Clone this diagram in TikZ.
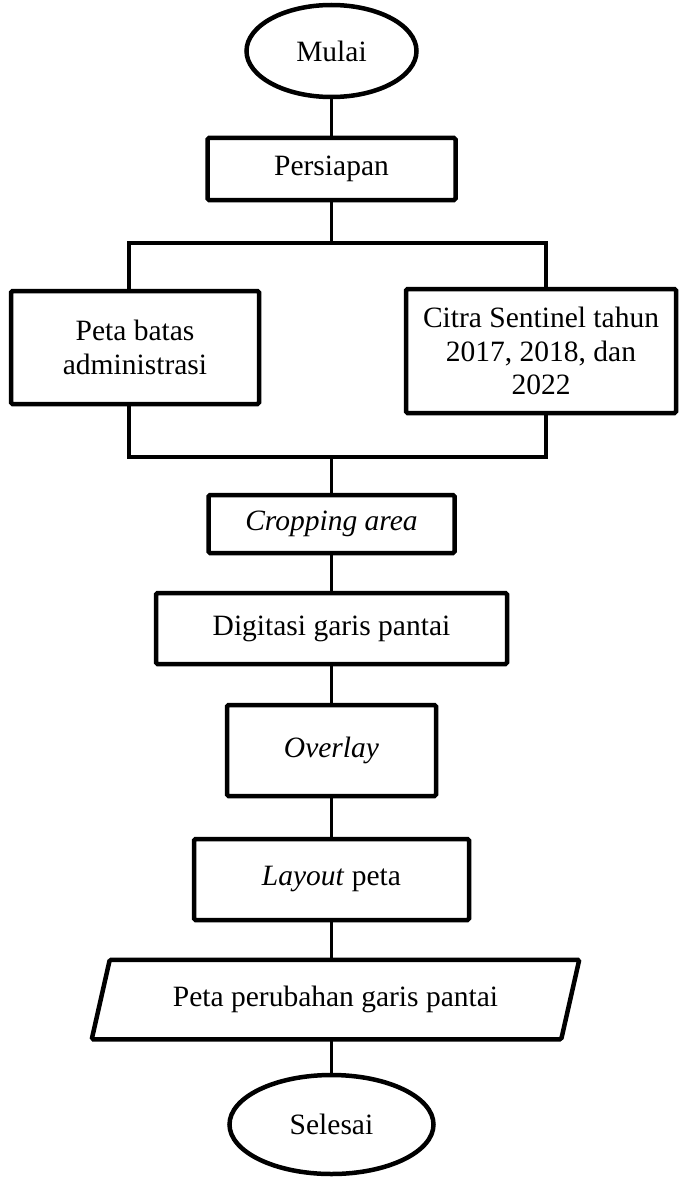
\documentclass[tikz,border=0pt]{standalone}
\usepackage{fontspec}
\setmainfont{Liberation Serif}
\usetikzlibrary{shapes.geometric,positioning}
\tikzset{
  base/.style={draw=black, fill=white, line width=4.5pt, align=center, inner sep=0pt,
               font=\fontsize{29.5}{33.5}\selectfont},
  terminal/.style={base, ellipse},
  process/.style={base, rectangle, rounded corners=1.5pt},
  output/.style={base, draw=none, fill=none, rectangle},
  outline/.style={draw=black, line width=4.5pt, rounded corners=1.5pt},
  link/.style={draw=black, line width=3.5pt},
}

\begin{document}
\begin{tikzpicture}[x=1pt, y=-1pt]
\useasboundingbox (0,0) rectangle (678,1180);

\node[terminal, minimum width=170pt, minimum height=92pt] (mulai) at (331.5,51) {Mulai};
\node[process, minimum width=248pt, minimum height=62pt] (persiapan) at (331.5,169) {Persiapan};
\node[process, minimum width=248pt, minimum height=113pt] (peta) at (135,347.5)
  {Peta batas\\administrasi};
\node[process, minimum width=270pt, minimum height=124pt] (citra) at (541,351)
  {Citra Sentinel tahun\\2017, 2018, dan\\2022};
\node[process, minimum width=246pt, minimum height=58pt] (cropping) at (331.5,524) {\textit{Cropping area}};
\node[process, minimum width=351pt, minimum height=71pt] (digitasi) at (331.5,628.5) {Digitasi garis pantai};
\node[process, minimum width=209pt, minimum height=91pt] (overlay) at (331.5,750.5) {\textit{Overlay}};
\node[process, minimum width=275pt, minimum height=81pt] (layout) at (331.5,879.5) {\textit{Layout} peta};
\node[output, minimum width=465pt, minimum height=75pt] (hasil) at (335.5,999.5) {Peta perubahan garis pantai};
\draw[outline] ([xshift=-9pt]hasil.south west) -- ([xshift=9pt]hasil.north west)
  -- ([xshift=9pt]hasil.north east) -- ([xshift=-9pt]hasil.south east) -- cycle;
\node[terminal, minimum width=204pt, minimum height=99pt] (selesai) at (331.5,1124.5) {Selesai};

\coordinate (split) at (331.5,243);
\coordinate (splitL) at (129,243);
\coordinate (splitR) at (546,243);
\coordinate (join) at (331.5,457);
\coordinate (joinL) at (129,457);
\coordinate (joinR) at (546,457);

\draw[link] (mulai) -- (persiapan);
\draw[link] (persiapan) -- (split);
\draw[link] (splitL |- peta.north) -- (splitL) -- (splitR) -- (splitR |- citra.north);
\draw[link] (joinL |- peta.south) -- (joinL) -- (joinR) -- (joinR |- citra.south);
\draw[link] (join) -- (cropping);
\draw[link] (cropping) -- (digitasi);
\draw[link] (digitasi) -- (overlay);
\draw[link] (overlay) -- (layout);
\draw[link] (layout) -- (layout |- hasil.north);
\draw[link] (hasil.south -| layout) -- (selesai);
\end{tikzpicture}
\end{document}
